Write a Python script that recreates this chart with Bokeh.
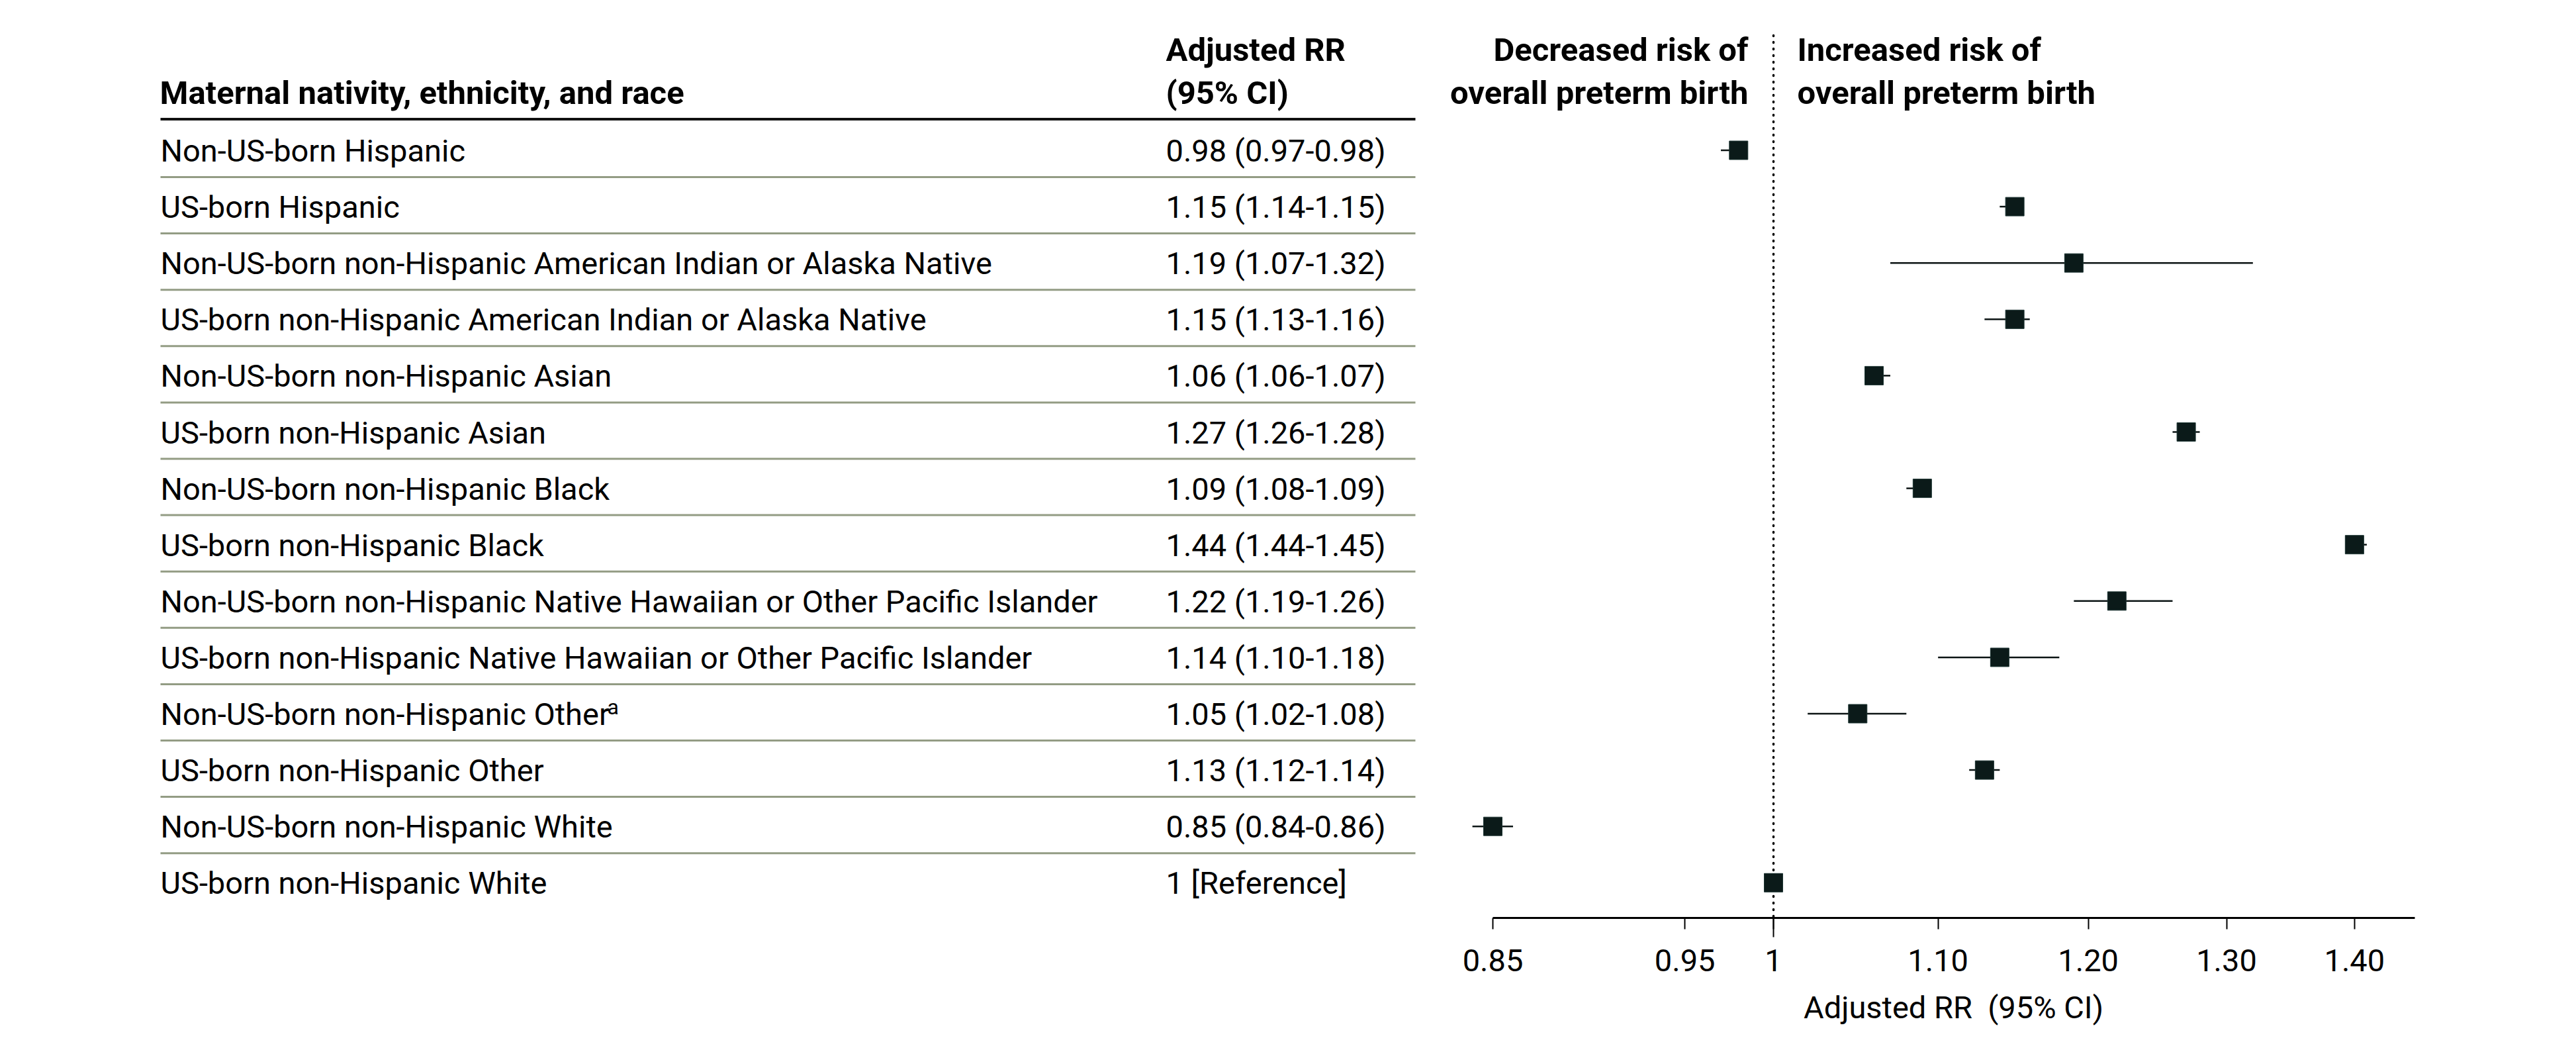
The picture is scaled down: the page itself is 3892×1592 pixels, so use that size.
import math
from bokeh.plotting import figure
from bokeh.models import ColumnDataSource, Range1d, FixedTicker
from bokeh.layouts import row
from bokeh.embed import file_html
from bokeh.resources import INLINE
from bokeh.core.properties import value

# ---------------- data ----------------
groups = [
    "Non-US-born Hispanic",
    "US-born Hispanic",
    "Non-US-born non-Hispanic American Indian or Alaska Native",
    "US-born non-Hispanic American Indian or Alaska Native",
    "Non-US-born non-Hispanic Asian",
    "US-born non-Hispanic Asian",
    "Non-US-born non-Hispanic Black",
    "US-born non-Hispanic Black",
    "Non-US-born non-Hispanic Native Hawaiian or Other Pacific Islander",
    "US-born non-Hispanic Native Hawaiian or Other Pacific Islander",
    "Non-US-born non-Hispanic Other",
    "US-born non-Hispanic Other",
    "Non-US-born non-Hispanic White",
    "US-born non-Hispanic White",
]
footnote_row = 11
footnote_mark = "a"
rr_text = [
    "0.98 (0.97-0.98)", "1.15 (1.14-1.15)", "1.19 (1.07-1.32)", "1.15 (1.13-1.16)",
    "1.06 (1.06-1.07)", "1.27 (1.26-1.28)", "1.09 (1.08-1.09)", "1.44 (1.44-1.45)",
    "1.22 (1.19-1.26)", "1.14 (1.10-1.18)", "1.05 (1.02-1.08)", "1.13 (1.12-1.14)",
    "0.85 (0.84-0.86)", "1 [Reference]",
]
# plotted positions
rr = [0.98, 1.15, 1.19, 1.15, 1.06, 1.27, 1.09, 1.40, 1.22, 1.14, 1.05, 1.13, 0.85, 1.00]
ci_low = [0.97, 1.14, 1.07, 1.13, 1.06, 1.26, 1.08, 1.40, 1.19, 1.10, 1.02, 1.12, 0.84, None]
ci_high = [0.98, 1.15, 1.32, 1.16, 1.07, 1.28, 1.09, 1.41, 1.26, 1.18, 1.08, 1.14, 0.86, None]

tick_values = [0.85, 0.95, 1.0, 1.10, 1.20, 1.30, 1.40]
tick_labels = ["0.85", "0.95", "1", "1.10", "1.20", "1.30", "1.40"]
reference_value = 1.0

header_group = "Maternal nativity, ethnicity, and race"
header_rr = ["Adjusted RR", "(95% CI)"]
header_dec = ["Decreased risk of", "overall preterm birth"]
header_inc = ["Increased risk of", "overall preterm birth"]
x_title = "Adjusted RR \u00a0(95% CI)"

# ---------------- layout constants ----------------
FONT = "Roboto"
FS = "47px"
FS_BOLD = "49px"
ROW_H = 85.1
FIRST_ROW_PY = 226.5
TOP_PY = 0
FRAME_H = 1386
LEFT_W = 2160
RIGHT_W = 1582
PX_PER_LN = 2609.0
ONE_PX = 2679.0
RIGHT_X0 = LEFT_W
TXT_SHIFT = 17.0  # empirical baseline correction (px)


def py2row(py):
    return 1 + (py - FIRST_ROW_PY) / ROW_H


def base_row(py):
    # row coordinate for a text whose baseline should sit at page y = py
    return py2row(py - TXT_SHIFT)


y_top = py2row(TOP_PY)
y_bot = py2row(TOP_PY + FRAME_H)
yr = Range1d(start=y_bot, end=y_top)

n = len(groups)
rows = list(range(1, n + 1))
row_text_y = [base_row(FIRST_ROW_PY + 17.5 + (r - 1) * ROW_H) for r in rows]

# ---------------- left table ----------------
left = figure(frame_width=LEFT_W, frame_height=FRAME_H, x_range=Range1d(0, RIGHT_X0), y_range=yr,
              output_backend="svg", toolbar_location=None, min_border=0,
              x_axis_location=None, y_axis_location=None)
left.outline_line_color = None
left.xgrid.visible = False
left.ygrid.visible = False

tsrc = ColumnDataSource(dict(y=row_text_y, g=groups, v=rr_text))
left.text(x=242, y="y", text="g", source=tsrc, text_font=value(FONT), text_font_size=FS,
          text_color="#000000", text_baseline="alphabetic", text_align="left")
left.text(x=1761, y="y", text="v", source=tsrc, text_font=value(FONT), text_font_size=FS,
          text_color="#000000", text_baseline="alphabetic", text_align="left")
# superscript footnote mark
left.text(x=[917], y=[row_text_y[footnote_row - 1] - 11 / ROW_H], text=[footnote_mark],
          text_font=value(FONT), text_font_size="32px", text_color="#000000",
          text_baseline="alphabetic", text_align="left")

left.text(x=[241], y=[base_row(157)], text=[header_group], text_font=value(FONT),
          text_font_size=FS_BOLD, text_font_style="bold", text_color="#000000",
          text_baseline="alphabetic")
left.text(x=[1761, 1761], y=[base_row(92), base_row(157)], text=header_rr, text_font=value(FONT),
          text_font_size=FS_BOLD, text_font_style="bold", text_color="#000000",
          text_baseline="alphabetic")

# header rule and separators
left.segment(x0=242, x1=2138, y0=py2row(179.5), y1=py2row(179.5), line_color="#111111", line_width=4)
sep_y = [r + 0.476 for r in rows[:-1]]
left.segment(x0=242, x1=2138, y0=sep_y, y1=sep_y, line_color="#939c84", line_width=3)

# ---------------- right forest plot ----------------
x_start = math.exp((RIGHT_X0 - ONE_PX) / PX_PER_LN)
x_end = math.exp((RIGHT_X0 + RIGHT_W - ONE_PX) / PX_PER_LN)

p = figure(frame_width=RIGHT_W, frame_height=FRAME_H, x_axis_type="log",
           x_range=Range1d(x_start, x_end), y_range=yr,
           output_backend="svg", toolbar_location=None, min_border=0,
           y_axis_location=None)
p.outline_line_color = None
p.xgrid.visible = False
p.ygrid.visible = False

# reference line
p.segment(x0=[reference_value], x1=[reference_value], y0=[py2row(53)], y1=[y_bot],
          line_color="#000000", line_width=3.5, line_dash="1 9", line_cap="round")

ci_idx = [i for i in range(n) if ci_low[i] is not None]
ci_src = ColumnDataSource(dict(y=[rows[i] for i in ci_idx],
                               lo=[ci_low[i] for i in ci_idx],
                               hi=[ci_high[i] for i in ci_idx]))
p.segment(x0="lo", x1="hi", y0="y", y1="y", source=ci_src, line_color="#0c1414", line_width=2.5)

pt_src = ColumnDataSource(dict(x=rr, y=rows))
p.scatter(x="x", y="y", source=pt_src, marker="square", size=28,
          fill_color="#0b1a19", line_color="#1d3533", line_width=1)

p.text(x=[reference_value] * 2, y=[base_row(92), base_row(157)], text=header_dec, x_offset=-38,
       text_font=value(FONT), text_font_size=FS_BOLD, text_font_style="bold",
       text_color="#000000", text_align="right", text_baseline="alphabetic")
p.text(x=[reference_value] * 2, y=[base_row(92), base_row(157)], text=header_inc, x_offset=36,
       text_font=value(FONT), text_font_size=FS_BOLD, text_font_style="bold",
       text_color="#000000", text_align="left", text_baseline="alphabetic")

ax = p.xaxis[0]
ax.ticker = FixedTicker(ticks=tick_values, minor_ticks=[reference_value])
ax.major_label_overrides = dict(zip(tick_values, tick_labels))
ax.bounds = (0.85, 1.45)
ax.axis_line_width = 3
ax.axis_line_color = "#000000"
ax.major_tick_in = 0
ax.major_tick_out = 17
ax.major_tick_line_width = 2
ax.major_tick_line_color = "#000000"
ax.minor_tick_in = 0
ax.minor_tick_out = 29
ax.minor_tick_line_width = 2
ax.minor_tick_line_color = "#000000"
ax.major_label_text_font = FONT
ax.major_label_text_font_size = FS
ax.major_label_text_color = "#000000"
ax.major_label_standoff = 18
ax.axis_label = x_title
ax.axis_label_text_font = FONT
ax.axis_label_text_font_size = FS
ax.axis_label_text_font_style = "normal"
ax.axis_label_text_color = "#000000"
ax.axis_label_standoff = 24

layout = row(left, p, spacing=0)
open("out.html", "w").write(file_html(layout, INLINE))
